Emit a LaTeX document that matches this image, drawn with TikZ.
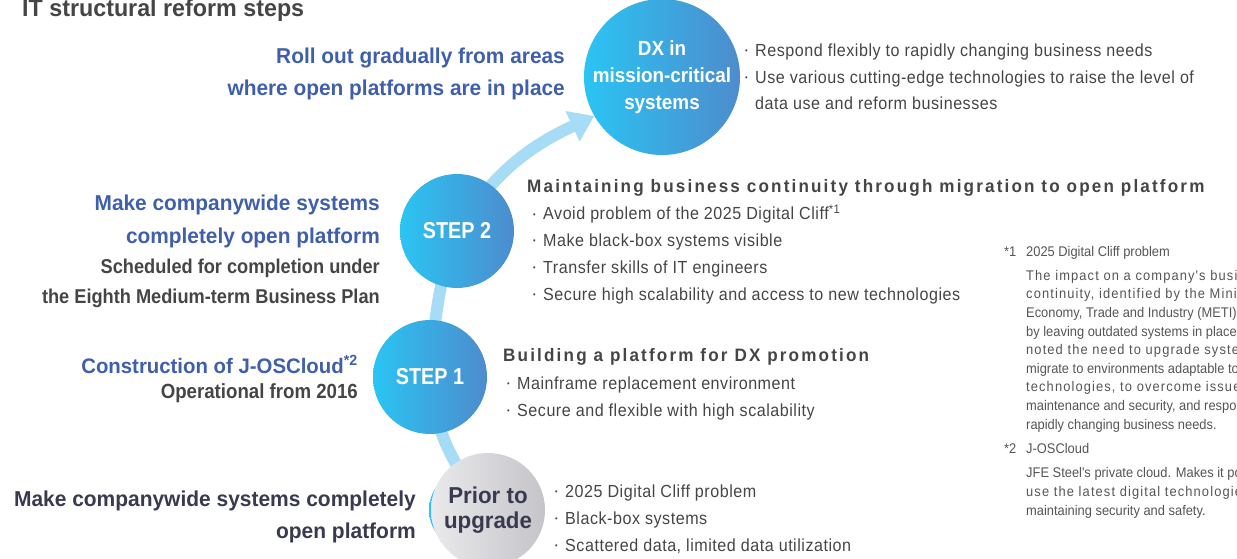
\documentclass[tikz,border=0pt]{standalone}
\usepackage{fontspec}
\setmainfont{Liberation Sans}[FakeStretch=0.86]
\newfontfamily\leadface{Liberation Sans}[FakeStretch=0.97]
\newfontfamily\schedface{Liberation Sans}[FakeStretch=0.91]
\newfontfamily\itemface{Liberation Sans}[FakeStretch=0.92, LetterSpace=3]
\newfontfamily\headface{Liberation Sans}[FakeStretch=0.95, LetterSpace=12]
\newfontfamily\noteface{Liberation Sans}[FakeStretch=0.92]
\newfontfamily\notewide{Liberation Sans}[FakeStretch=0.92, LetterSpace=8]
\usetikzlibrary{arrows.meta,positioning}
\definecolor{ink}{HTML}{454545}
\definecolor{navy}{HTML}{383A50}
\definecolor{royal}{HTML}{3F5FAD}
\definecolor{cyanL}{HTML}{2BC4F3}
\definecolor{blueR}{HTML}{4D8CCD}
\definecolor{greyL}{HTML}{EAEAEC}
\definecolor{greyR}{HTML}{C4C4C9}
\definecolor{trackblue}{HTML}{A6DCF6}
\definecolor{note}{HTML}{555555}
\newcommand{\bul}{\makebox[10pt][l]{\raisebox{0.3ex}{\fontsize{8}{8}\selectfont\textbullet}}}
\newcommand{\BulGap}{\hspace*{10pt}}
\pgfdeclarelayer{back}
\pgfsetlayers{back,main}

\begin{document}
\begin{tikzpicture}[x=1pt, y=1pt, text=ink, inner sep=0pt,
    stage/.style={circle, minimum size=114pt, inner sep=0pt, left color=cyanL, right color=blueR, text=white, align=center, font=\bfseries\fontsize{23}{27}\selectfont},
    before/.style={circle, minimum size=114pt, inner sep=0pt, left color=greyL, right color=greyR, text=navy, align=center, font=\leadface\bfseries\fontsize{23}{25.5}\selectfont},
    lead/.style={align=right, text=royal, font=\leadface\bfseries\fontsize{21.5}{32.4}\selectfont},
    sched/.style={align=right, text=ink, font=\schedface\bfseries\fontsize{20}{29.5}\selectfont},
    head/.style={text=ink, font=\headface\bfseries\fontsize{18}{20}\selectfont},
    items/.style={align=left, text=ink, font=\itemface\fontsize{17.5}{26.7}\selectfont},
    note/.style={align=left, text=note, font=\noteface\fontsize{14}{18.6}\selectfont},
    track/.style={draw=trackblue, line width=12pt, -{Triangle[length=24pt,width=32pt]}},
  ]
% --- Page ----------------------------------------------------------------------
\useasboundingbox (0,0) rectangle (1237,558);
\clip (0,0) rectangle (1237,558);

\node[anchor=base west, text=ink, font=\leadface\bfseries\fontsize{24}{26}\selectfont] (title) at (22,541) {IT structural reform steps};

% --- Stages ----------------------------------------------------------------------
\node[stage, minimum size=80pt] (under) at (469,48) {};
\node[before] (prior) at (488,48) {Prior to\\upgrade};
\node[stage] (step1) at (430,181) {STEP 1};
\node[stage] (step2) at (457,327) {STEP 2};
\node[stage, minimum size=142pt, font=\noteface\bfseries\fontsize{20.5}{27}\selectfont] (dx) at (662,481) {DX in\\mission-critical\\systems};

% track behind the stages
\begin{pgfonlayer}{back}
\draw[track] (prior.center) to[out=128,in=-85] (step1.center)
  to[out=85,in=-110] (step2.center) to[out=58,in=205] (dx.210);
\end{pgfonlayer}

% --- Goals on the left -------------------------------------------------------------
\node[lead, anchor=base east] (rollout) at (565,462) {Roll out gradually from areas\\where open platforms are in place};
\node[lead, anchor=base east] (open2) at (380,315) {Make companywide systems\\completely open platform};
\node[sched, anchor=base east] (plan2) at (380,255) {Scheduled for completion under\\the Eighth Medium-term Business Plan};
\node[lead, anchor=base east, font=\leadface\bfseries\fontsize{21}{25}\selectfont] (cloud1) at (358,185) {Construction of J-OSCloud\textsuperscript{*2}};
\node[sched, anchor=base east, font=\schedface\bfseries\fontsize{20.5}{25}\selectfont] (oper1) at (358,160) {Operational from 2016};
\node[lead, anchor=base east, text=navy, font=\leadface\bfseries\fontsize{21.6}{32}\selectfont] (open0) at (416,20) {Make companywide systems completely\\open platform};

% --- Points on the right -------------------------------------------------------------
\node[items, anchor=base west] (dxlist) at (745,448) {\bul Respond flexibly to rapidly changing business needs\\\bul Use various cutting-edge technologies to raise the level of\\\BulGap data use and reform businesses};

\node[head, anchor=base west] (head2) at (527,365) {Maintaining business continuity through migration to open platform};
\node[items, anchor=base west] (list2) at (533,258) {\bul Avoid problem of the 2025 Digital Cliff\textsuperscript{*1}\\\bul Make black-box systems visible\\\bul Transfer skills of IT engineers\\\bul Secure high scalability and access to new technologies};

\node[head, anchor=base west] (head1) at (503,197) {Building a platform for DX promotion};
\node[items, anchor=base west] (list1) at (507,142) {\bul Mainframe replacement environment\\\bul Secure and flexible with high scalability};

\node[items, anchor=base west] (list0) at (555,7) {\bul 2025 Digital Cliff problem\\\bul Black-box systems\\\bul Scattered data, limited data utilization};

% --- Notes ---------------------------------------------------------------------------
\node[note, anchor=base west] (mark1) at (1004,302) {*1};
\node[note, anchor=base west] (note1) at (1026,302) {2025 Digital Cliff problem};
\node[note, anchor=base west] (body1) at (1026,129) {{\notewide The impact on a company's business}\\{\notewide continuity, identified by the Ministry of}\\Economy, Trade and Industry (METI), caused\\by leaving outdated systems in place. METI\\{\notewide noted the need to upgrade systems and}\\migrate to environments adaptable to new\\{\notewide technologies, to overcome issues with}\\maintenance and security, and respond to\\rapidly changing business needs.};
\node[note, anchor=base west] (mark2) at (1004,105) {*2};
\node[note, anchor=base west] (note2) at (1026,105) {J-OSCloud};
\node[note, anchor=base west] (body2) at (1026,43) {JFE Steel's private cloud. Makes it possible to\\{\notewide use the latest digital technologies while}\\maintaining security and safety.};
\end{tikzpicture}
\end{document}
